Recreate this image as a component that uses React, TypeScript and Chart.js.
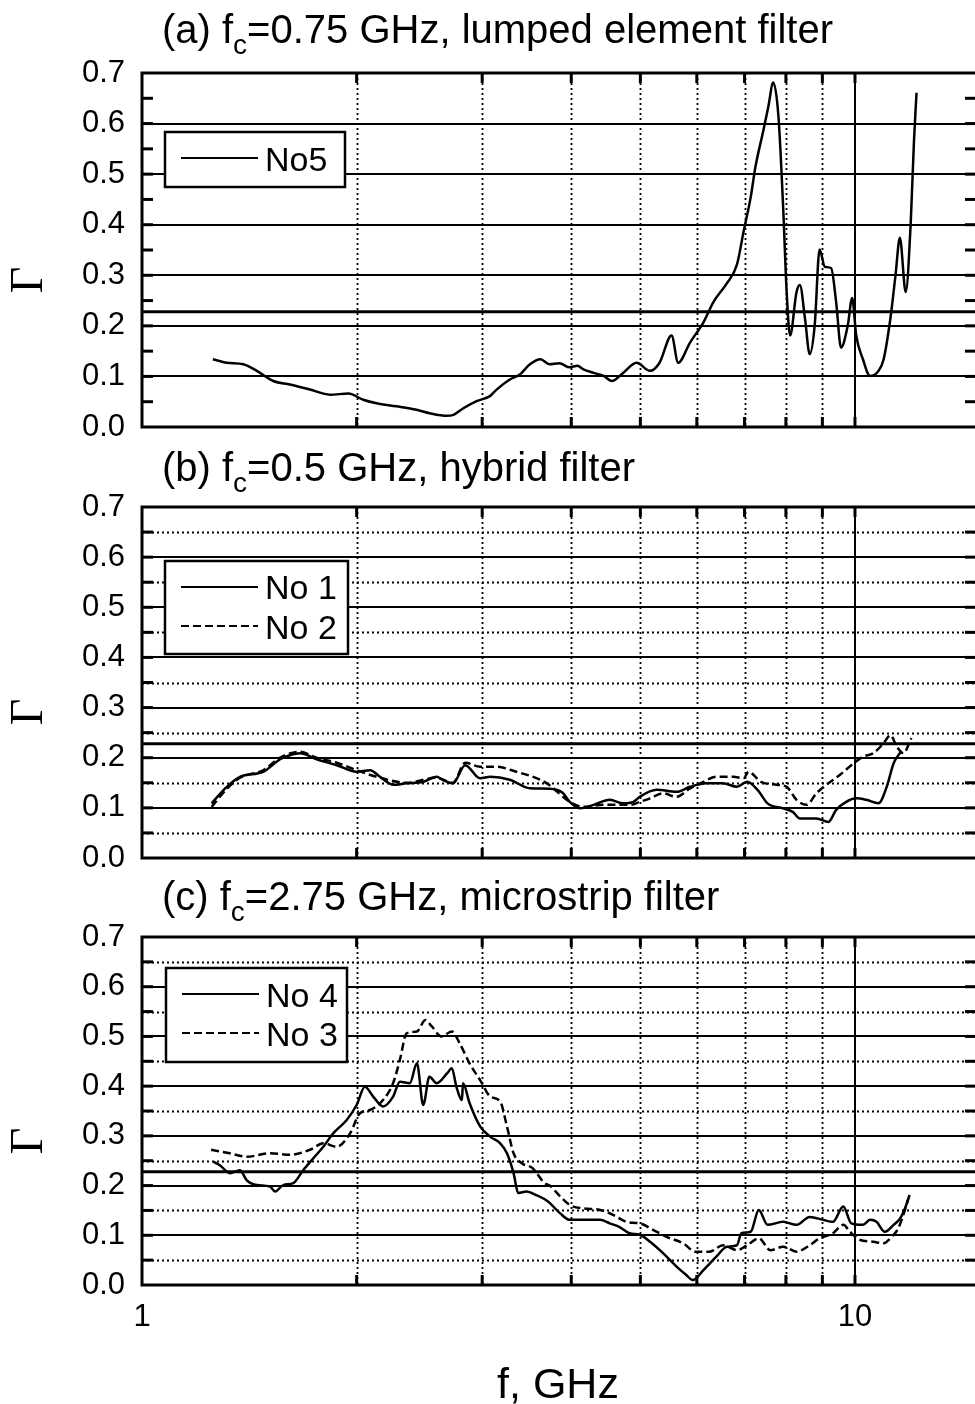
import React, { useEffect, useRef } from 'react';
import { Chart, registerables } from 'chart.js';

Chart.register(...registerables);

// ---------------- data ----------------
const X_TICK_VALUES = [1, 2, 3, 4, 5, 6, 7, 8, 9, 10];
const X_TICK_LABELS = [1, 10];
const Y_TICK_VALUES = [0, 0.1, 0.2, 0.3, 0.4, 0.5, 0.6, 0.7];
const Y_MAJOR_GRID = [0.1, 0.2, 0.3, 0.4, 0.5, 0.6];
const Y_MINOR_GRID = [0.05, 0.15, 0.25, 0.35, 0.45, 0.55, 0.65];
const Y_FRAME_TICKS = [0.05, 0.1, 0.15, 0.2, 0.25, 0.3, 0.35, 0.4, 0.45, 0.5, 0.55, 0.6, 0.65];
const X_MINOR_GRID = [2, 3, 4, 5, 6, 7, 8, 9];
const X_MAJOR_GRID = [10];
const REF_LEVEL = 0.228;

// (a) No5
const no5F = [1.257, 1.315, 1.387, 1.449, 1.528, 1.612, 1.72, 1.836, 1.947, 2.043, 2.133, 2.276, 2.428, 2.534, 2.676, 2.734, 2.823, 2.946, 3.076, 3.143, 3.28, 3.389, 3.5, 3.62, 3.73, 3.85, 3.98, 4.08, 4.16, 4.3, 4.44, 4.56, 4.73, 4.94, 5.16, 5.32, 5.53, 5.65, 5.87, 6.13, 6.33, 6.61, 6.83, 6.98, 7.14, 7.25, 7.44, 7.56, 7.68, 7.81, 7.93, 8.02, 8.11, 8.28, 8.37, 8.51, 8.64, 8.78, 8.92, 9.07, 9.26, 9.41, 9.56, 9.77, 9.91, 10.04, 10.26, 10.5, 10.79, 10.97, 11.21, 11.4, 11.56, 11.78, 11.97, 12.1, 12.2];
const no5G = [0.134, 0.127, 0.124, 0.111, 0.091, 0.084, 0.074, 0.064, 0.066, 0.054, 0.047, 0.041, 0.034, 0.027, 0.022, 0.024, 0.037, 0.051, 0.061, 0.074, 0.094, 0.104, 0.124, 0.134, 0.124, 0.126, 0.118, 0.121, 0.114, 0.107, 0.101, 0.091, 0.107, 0.127, 0.111, 0.127, 0.181, 0.127, 0.167, 0.207, 0.247, 0.284, 0.321, 0.387, 0.454, 0.514, 0.587, 0.634, 0.681, 0.614, 0.434, 0.267, 0.181, 0.267, 0.281, 0.214, 0.144, 0.201, 0.351, 0.317, 0.314, 0.247, 0.157, 0.201, 0.255, 0.181, 0.134, 0.101, 0.111, 0.134, 0.214, 0.301, 0.374, 0.267, 0.401, 0.567, 0.661];

// (b) No 1 (solid) and No 2 (dashed)
const no1F = [1.252, 1.315, 1.372, 1.479, 1.562, 1.612, 1.665, 1.758, 1.876, 2.0, 2.088, 2.157, 2.253, 2.35, 2.48, 2.59, 2.64, 2.73, 2.84, 2.98, 3.08, 3.28, 3.5, 3.73, 3.89, 3.98, 4.12, 4.3, 4.53, 4.73, 4.89, 4.99, 5.27, 5.62, 5.87, 6.19, 6.53, 6.83, 7.06, 7.3, 7.54, 7.93, 8.18, 8.37, 8.83, 9.18, 9.41, 9.72, 10.04, 10.37, 10.79, 11.08, 11.33, 11.6];
const no1G = [0.109, 0.142, 0.162, 0.172, 0.197, 0.205, 0.209, 0.197, 0.185, 0.172, 0.175, 0.162, 0.146, 0.149, 0.152, 0.162, 0.156, 0.149, 0.185, 0.159, 0.162, 0.156, 0.139, 0.138, 0.13, 0.112, 0.099, 0.106, 0.116, 0.109, 0.112, 0.122, 0.136, 0.132, 0.142, 0.149, 0.149, 0.142, 0.152, 0.136, 0.109, 0.099, 0.092, 0.079, 0.079, 0.072, 0.096, 0.112, 0.119, 0.116, 0.109, 0.142, 0.189, 0.212];
const no2F = [1.252, 1.315, 1.372, 1.479, 1.562, 1.665, 1.758, 1.876, 2.0, 2.157, 2.35, 2.59, 2.73, 2.84, 2.98, 3.14, 3.35, 3.62, 3.73, 3.98, 4.16, 4.44, 4.64, 4.84, 4.99, 5.16, 5.38, 5.62, 5.87, 6.13, 6.39, 6.75, 6.98, 7.09, 7.38, 7.77, 8.02, 8.28, 8.55, 8.83, 9.12, 9.53, 9.88, 10.26, 10.61, 10.97, 11.21, 11.45, 11.69, 12.0];
const no2G = [0.102, 0.138, 0.16, 0.175, 0.2, 0.212, 0.2, 0.19, 0.175, 0.16, 0.15, 0.16, 0.15, 0.19, 0.182, 0.182, 0.172, 0.156, 0.145, 0.112, 0.102, 0.106, 0.106, 0.106, 0.112, 0.119, 0.129, 0.122, 0.139, 0.152, 0.162, 0.162, 0.159, 0.172, 0.152, 0.146, 0.142, 0.116, 0.106, 0.129, 0.146, 0.166, 0.185, 0.202, 0.209, 0.229, 0.245, 0.222, 0.209, 0.239];

// (c) No 4 (solid) and No 3 (dashed)
const no4F = [1.259, 1.286, 1.328, 1.372, 1.402, 1.449, 1.512, 1.537, 1.578, 1.63, 1.683, 1.739, 1.796, 1.854, 1.937, 2.0, 2.054, 2.11, 2.178, 2.25, 2.3, 2.375, 2.43, 2.48, 2.53, 2.59, 2.68, 2.72, 2.76, 2.81, 2.82, 2.88, 2.98, 3.08, 3.18, 3.25, 3.32, 3.37, 3.46, 3.57, 3.71, 3.86, 3.98, 4.16, 4.39, 4.53, 4.67, 4.83, 4.99, 5.16, 5.38, 5.62, 5.8, 5.92, 6.13, 6.39, 6.61, 6.83, 6.93, 7.14, 7.33, 7.54, 7.93, 8.28, 8.64, 9.02, 9.31, 9.63, 9.88, 10.26, 10.5, 10.72, 11.01, 11.33, 11.57, 11.78, 11.93];
const no4G = [0.248, 0.241, 0.225, 0.231, 0.211, 0.201, 0.198, 0.188, 0.201, 0.205, 0.231, 0.255, 0.278, 0.305, 0.332, 0.362, 0.399, 0.379, 0.359, 0.379, 0.409, 0.406, 0.446, 0.362, 0.419, 0.406, 0.426, 0.436, 0.399, 0.372, 0.406, 0.366, 0.319, 0.298, 0.285, 0.265, 0.225, 0.185, 0.188, 0.181, 0.168, 0.144, 0.131, 0.131, 0.131, 0.124, 0.117, 0.104, 0.101, 0.087, 0.064, 0.037, 0.02, 0.01, 0.03, 0.057, 0.077, 0.08, 0.104, 0.107, 0.151, 0.121, 0.127, 0.121, 0.137, 0.131, 0.127, 0.158, 0.124, 0.121, 0.131, 0.127, 0.107, 0.121, 0.134, 0.158, 0.181];
const no3F = [1.25, 1.328, 1.402, 1.512, 1.612, 1.72, 1.796, 1.876, 1.958, 2.02, 2.088, 2.178, 2.25, 2.3, 2.35, 2.43, 2.497, 2.55, 2.63, 2.72, 2.79, 2.88, 2.98, 3.08, 3.18, 3.25, 3.32, 3.41, 3.53, 3.67, 3.73, 3.86, 3.98, 4.16, 4.39, 4.58, 4.78, 4.99, 5.21, 5.44, 5.74, 5.98, 6.25, 6.53, 6.83, 7.06, 7.33, 7.61, 7.93, 8.28, 8.64, 8.92, 9.31, 9.63, 9.84, 10.15, 10.61, 10.97, 11.21, 11.5, 11.69, 11.88];
const no3G = [0.272, 0.265, 0.258, 0.265, 0.262, 0.272, 0.285, 0.278, 0.305, 0.345, 0.352, 0.372, 0.406, 0.453, 0.506, 0.51, 0.533, 0.52, 0.5, 0.51, 0.486, 0.446, 0.412, 0.379, 0.369, 0.319, 0.265, 0.245, 0.235, 0.205, 0.2, 0.178, 0.161, 0.154, 0.151, 0.141, 0.127, 0.124, 0.111, 0.097, 0.084, 0.067, 0.067, 0.08, 0.07, 0.08, 0.094, 0.07, 0.077, 0.067, 0.08, 0.094, 0.104, 0.121, 0.107, 0.091, 0.087, 0.084, 0.094, 0.114, 0.141, 0.174];

// ---------------- layout ----------------
const SANS = '"Liberation Sans", Arial, Helvetica, sans-serif';
const SERIF = '"Liberation Serif", "Times New Roman", serif';
const CANVAS_W = 990;
const LEFT = 142;
const RIGHT = 977;
const X_MIN = 1;
const X_MAX = 14.83;

type Series = { label: string; f: number[]; g: number[]; dashed: boolean };
type PanelCfg = {
  top: number; height: number; chartTop: number; chartBottom: number;
  titleHead: string; titleSub: string; titleTail: string; titleBase: number;
  gammaY: number; minorH: boolean; xLabels: boolean;
  legendBox: [number, number, number, number];
  legendRows: { lineY: number; textBase: number }[];
  series: Series[];
};

const PANELS: PanelCfg[] = [
  {
    top: 0, height: 480, chartTop: 73, chartBottom: 427,
    titleHead: '(a) f', titleSub: 'c', titleTail: '=0.75 GHz, lumped element filter', titleBase: 43,
    gammaY: 280, minorH: false, xLabels: false,
    legendBox: [165, 132, 345, 187],
    legendRows: [{ lineY: 158, textBase: 171 }],
    series: [{ label: 'No5', f: no5F, g: no5G, dashed: false }],
  },
  {
    top: 440, height: 470, chartTop: 67, chartBottom: 418,
    titleHead: '(b) f', titleSub: 'c', titleTail: '=0.5 GHz, hybrid filter', titleBase: 41,
    gammaY: 272, minorH: true, xLabels: false,
    legendBox: [165, 121, 348, 214],
    legendRows: [{ lineY: 147, textBase: 159 }, { lineY: 186, textBase: 199 }],
    series: [
      { label: 'No 1', f: no1F, g: no1G, dashed: false },
      { label: 'No 2', f: no2F, g: no2G, dashed: true },
    ],
  },
  {
    top: 870, height: 534, chartTop: 67, chartBottom: 415,
    titleHead: '(c) f', titleSub: 'c', titleTail: '=2.75 GHz, microstrip filter', titleBase: 40,
    gammaY: 271, minorH: true, xLabels: true,
    legendBox: [166, 98, 347, 192],
    legendRows: [{ lineY: 124, textBase: 137 }, { lineY: 163, textBase: 176 }],
    series: [
      { label: 'No 4', f: no4F, g: no4G, dashed: false },
      { label: 'No 3', f: no3F, g: no3G, dashed: true },
    ],
  },
];

const DASH = [8, 4];

function makeDeco(cfg: PanelCfg) {
  return {
    id: 'deco',
    beforeDatasetsDraw(chart: any) {
      const { ctx, chartArea: a, scales } = chart;
      const x = scales.x;
      const y = scales.y;
      ctx.save();
      ctx.strokeStyle = '#000';
      // dotted grid
      ctx.setLineDash([2, 3]);
      ctx.lineWidth = 1.8;
      X_MINOR_GRID.forEach((v) => {
        const px = Math.round(x.getPixelForValue(v)) + 0.5;
        ctx.beginPath(); ctx.moveTo(px, a.top); ctx.lineTo(px, a.bottom); ctx.stroke();
      });
      if (cfg.minorH) {
        Y_MINOR_GRID.forEach((v) => {
          const py = Math.round(y.getPixelForValue(v)) + 0.5;
          ctx.beginPath(); ctx.moveTo(a.left, py); ctx.lineTo(a.right, py); ctx.stroke();
        });
      }
      // solid grid
      ctx.setLineDash([]);
      ctx.lineWidth = 2;
      Y_MAJOR_GRID.forEach((v) => {
        const py = Math.round(y.getPixelForValue(v));
        ctx.beginPath(); ctx.moveTo(a.left, py); ctx.lineTo(a.right, py); ctx.stroke();
      });
      X_MAJOR_GRID.forEach((v) => {
        const px = Math.round(x.getPixelForValue(v));
        ctx.beginPath(); ctx.moveTo(px, a.top); ctx.lineTo(px, a.bottom); ctx.stroke();
      });
      ctx.lineWidth = 3;
      const pr = y.getPixelForValue(REF_LEVEL);
      ctx.beginPath(); ctx.moveTo(a.left, pr); ctx.lineTo(a.right, pr); ctx.stroke();
      ctx.restore();
    },
    afterDraw(chart: any) {
      const { ctx, chartArea: a, scales } = chart;
      const x = scales.x;
      const y = scales.y;
      ctx.save();
      ctx.strokeStyle = '#000';
      ctx.fillStyle = '#000';
      ctx.setLineDash([]);
      // frame ticks
      ctx.lineWidth = 3;
      X_TICK_VALUES.slice(1).forEach((v) => {
        const px = x.getPixelForValue(v);
        ctx.beginPath(); ctx.moveTo(px, a.top); ctx.lineTo(px, a.top + 10); ctx.stroke();
        ctx.beginPath(); ctx.moveTo(px, a.bottom); ctx.lineTo(px, a.bottom - 10); ctx.stroke();
      });
      Y_FRAME_TICKS.forEach((v) => {
        const py = y.getPixelForValue(v);
        ctx.beginPath(); ctx.moveTo(a.left, py); ctx.lineTo(a.left + 11, py); ctx.stroke();
        ctx.beginPath(); ctx.moveTo(a.right, py); ctx.lineTo(a.right - 12, py); ctx.stroke();
      });
      // frame
      ctx.lineWidth = 3;
      ctx.strokeRect(a.left, a.top, a.right - a.left, a.bottom - a.top);

      // legend
      const [bx0, by0, bx1, by1] = cfg.legendBox;
      ctx.fillStyle = '#fff';
      ctx.fillRect(bx0, by0, bx1 - bx0, by1 - by0);
      ctx.lineWidth = 2.5;
      ctx.strokeRect(bx0, by0, bx1 - bx0, by1 - by0);
      ctx.fillStyle = '#000';
      ctx.font = `34px ${SANS}`;
      ctx.textAlign = 'left';
      ctx.textBaseline = 'alphabetic';
      cfg.series.forEach((s, i) => {
        const row = cfg.legendRows[i];
        ctx.lineWidth = 2.2;
        ctx.setLineDash(s.dashed ? DASH : []);
        ctx.beginPath(); ctx.moveTo(bx0 + 16, row.lineY); ctx.lineTo(bx0 + 93, row.lineY); ctx.stroke();
        ctx.setLineDash([]);
        ctx.fillText(s.label, bx0 + 100, row.textBase);
      });

      // title with subscript
      let tx = 162;
      ctx.font = `40px ${SANS}`;
      ctx.fillText(cfg.titleHead, tx, cfg.titleBase);
      tx += ctx.measureText(cfg.titleHead).width;
      ctx.font = `28px ${SANS}`;
      ctx.fillText(cfg.titleSub, tx, cfg.titleBase + 11);
      tx += ctx.measureText(cfg.titleSub).width;
      ctx.font = `40px ${SANS}`;
      ctx.fillText(cfg.titleTail, tx, cfg.titleBase);

      // Gamma axis label
      ctx.save();
      ctx.translate(30, cfg.gammaY);
      ctx.rotate(-Math.PI / 2);
      ctx.font = `46px ${SERIF}`;
      ctx.textAlign = 'center';
      ctx.textBaseline = 'middle';
      ctx.fillText('Γ', 0, 0);
      ctx.restore();

      if (cfg.xLabels) {
        ctx.font = `43px ${SANS}`;
        ctx.textAlign = 'center';
        ctx.textBaseline = 'alphabetic';
        ctx.fillText('f, GHz', 558, 528);
      }
      ctx.restore();
    },
  };
}

function Panel({ cfg }: { cfg: PanelCfg }) {
  const ref = useRef<HTMLCanvasElement>(null);
  useEffect(() => {
    const canvas = ref.current;
    if (!canvas) return;
    const chart = new Chart(canvas, {
      type: 'line',
      data: {
        datasets: cfg.series.map((s) => ({
          label: s.label,
          data: s.f.map((f, i) => ({ x: f, y: s.g[i] })),
          borderColor: '#000',
          borderWidth: 2.5,
          borderDash: s.dashed ? DASH : [],
          pointRadius: 0,
          cubicInterpolationMode: 'monotone',
          fill: false,
        })),
      },
      options: {
        animation: false,
        responsive: false,
        devicePixelRatio: 1,
        layout: { padding: { left: 0, right: CANVAS_W - RIGHT, top: cfg.chartTop, bottom: 0 } },
        plugins: { legend: { display: false }, tooltip: { enabled: false }, title: { display: false } },
        scales: {
          x: {
            type: 'logarithmic',
            min: X_MIN,
            max: X_MAX,
            grid: { display: false, drawTicks: false },
            border: { display: false },
            afterBuildTicks: (s: any) => { s.ticks = X_TICK_VALUES.map((v) => ({ value: v })); },
            afterFit: (s: any) => { s.height = cfg.height - cfg.chartBottom; },
            ticks: {
              display: cfg.xLabels,
              autoSkip: false,
              maxRotation: 0,
              padding: 14,
              color: '#000',
              font: { family: SANS, size: 31 },
              callback: (v: any) => (X_TICK_LABELS.includes(Number(v)) ? String(v) : ''),
            },
          },
          y: {
            type: 'linear',
            min: 0,
            max: 0.7,
            grid: { display: false, drawTicks: false },
            border: { display: false },
            afterBuildTicks: (s: any) => { s.ticks = Y_TICK_VALUES.map((v) => ({ value: v })); },
            afterFit: (s: any) => { s.width = LEFT; },
            ticks: {
              padding: 17,
              color: '#000',
              font: { family: SANS, size: 31 },
              callback: (v: any) => Number(v).toFixed(1),
            },
          },
        },
      } as any,
      plugins: [makeDeco(cfg)],
    });
    return () => chart.destroy();
  }, [cfg]);
  return (
    <canvas
      ref={ref}
      width={CANVAS_W}
      height={cfg.height}
      style={{ position: 'absolute', left: 0, top: cfg.top, width: CANVAS_W, height: cfg.height, display: 'block' }}
    />
  );
}

export default function App() {
  return (
    <div style={{ position: 'fixed', left: 0, top: 0, width: 975, height: 1404, overflow: 'hidden', background: '#fff' }}>
      {PANELS.map((p, i) => (
        <Panel key={i} cfg={p} />
      ))}
    </div>
  );
}
